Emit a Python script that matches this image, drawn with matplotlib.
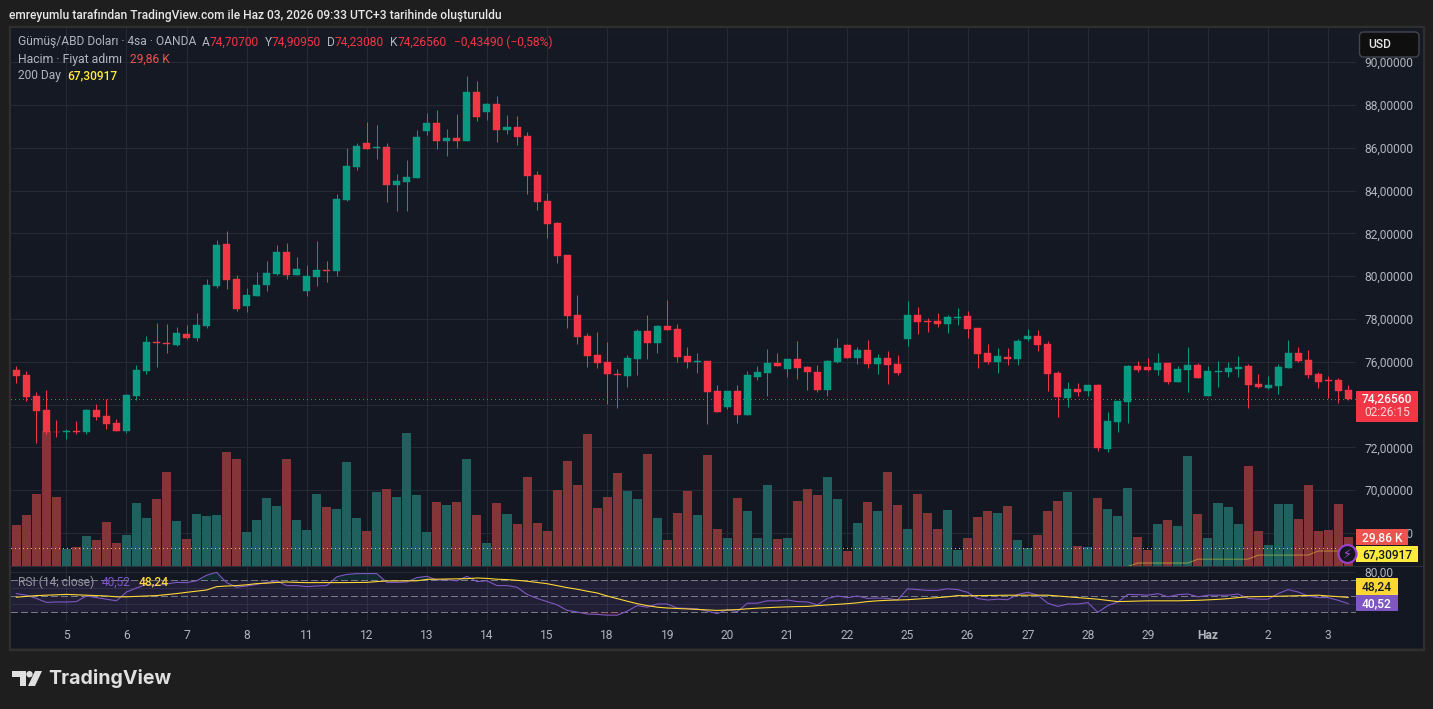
"""XAG/USD 4h candlestick chart with volume and RSI panes."""
import matplotlib

matplotlib.use("Agg")
import matplotlib.pyplot as plt
import numpy as np
from matplotlib.colors import LinearSegmentedColormap
from matplotlib.patches import Circle, FancyBboxPatch, Polygon, Rectangle

WIDTH, HEIGHT = 1433, 709

opens = [
    75.62, 75.38, 74.40, 73.75, 72.74, 72.72, 72.77, 72.72, 73.75, 73.47,
    73.14, 72.77, 74.40, 75.57, 76.93, 76.88, 76.79, 77.30, 77.11, 77.67,
    79.54, 81.51, 79.87, 78.61, 79.08, 79.59, 80.10, 81.13, 80.06, 79.31,
    79.96, 80.29, 80.24, 83.56, 85.10, 86.22, 85.99, 86.04, 84.26, 84.40,
    84.59, 86.79, 87.16, 86.32, 86.46, 86.32, 88.61, 87.67, 88.05, 86.83,
    86.97, 86.55, 84.73, 83.51, 82.49, 80.99, 78.19, 77.21, 76.32, 75.99,
    75.43, 75.34, 76.13, 77.44, 76.88, 77.67, 77.53, 76.27, 75.99, 76.04,
    74.64, 73.89, 74.64, 73.51, 75.29, 75.48, 75.94, 75.66, 76.13, 75.76,
    75.52, 74.68, 75.99, 76.79, 76.18, 76.55, 75.90, 76.18, 75.90, 77.07,
    78.19, 77.91, 77.91, 77.77, 78.05, 78.14, 77.58, 76.41, 75.99, 76.23,
    76.13, 77.07, 77.21, 76.83, 75.48, 74.31, 74.73, 74.64, 74.92, 71.93,
    73.19, 74.12, 75.80, 75.76, 75.62, 75.94, 75.06, 75.62, 75.85, 74.40,
    75.52, 75.52, 75.66, 75.80, 74.96, 74.78, 74.87, 75.71, 76.41, 76.08,
    75.43, 75.15, 75.15, 74.707,
]
highs = [
    75.80, 75.57, 74.59, 74.68, 73.28, 72.86, 73.23, 73.80, 74.03, 74.26,
    73.33, 74.50, 75.85, 77.21, 77.81, 77.77, 77.63, 77.72, 78.28, 79.87,
    81.69, 82.11, 80.06, 79.45, 80.20, 80.71, 81.46, 81.55, 80.90, 80.52,
    81.65, 80.71, 83.84, 85.99, 86.22, 87.21, 87.07, 86.22, 84.78, 85.43,
    86.83, 87.63, 87.77, 86.88, 87.58, 89.36, 89.12, 88.09, 88.42, 87.53,
    87.49, 86.74, 84.92, 83.89, 82.53, 80.99, 79.12, 77.35, 77.39, 76.93,
    75.66, 76.32, 77.53, 78.19, 77.72, 78.89, 77.77, 76.69, 76.41, 76.04,
    74.92, 74.64, 74.92, 75.57, 75.80, 76.60, 76.41, 76.13, 76.97, 75.80,
    75.85, 76.08, 77.11, 76.83, 76.69, 77.02, 76.37, 76.51, 76.32, 78.84,
    78.56, 78.05, 78.28, 78.19, 78.51, 78.37, 77.58, 76.83, 76.65, 76.65,
    77.07, 77.53, 77.49, 76.97, 75.57, 75.06, 75.01, 74.92, 74.96, 73.65,
    74.17, 75.85, 76.04, 76.18, 76.41, 75.94, 75.80, 76.69, 75.94, 75.80,
    76.04, 75.99, 76.27, 75.90, 75.43, 75.34, 75.90, 77.02, 76.69, 76.55,
    75.52, 75.34, 75.24, 74.9095,
]
lows = [
    75.01, 74.17, 72.21, 72.63, 72.49, 72.39, 72.63, 72.63, 73.28, 72.86,
    72.77, 72.67, 74.22, 75.43, 75.76, 76.41, 76.74, 77.07, 76.97, 77.58,
    79.45, 79.40, 78.37, 78.33, 79.08, 79.31, 80.06, 79.87, 80.06, 79.08,
    79.54, 79.73, 80.01, 83.51, 84.96, 85.94, 85.48, 83.47, 83.05, 83.05,
    84.59, 86.60, 85.94, 85.62, 85.99, 86.32, 87.25, 87.30, 86.27, 86.65,
    86.13, 83.84, 83.09, 81.79, 80.62, 77.58, 76.83, 75.76, 75.71, 74.03,
    73.84, 74.82, 75.38, 76.13, 76.41, 77.49, 75.99, 75.71, 75.48, 73.09,
    73.65, 73.80, 73.14, 73.51, 75.15, 74.40, 75.80, 75.29, 75.20, 74.68,
    74.59, 74.40, 75.94, 76.18, 75.90, 75.71, 75.43, 74.96, 75.38, 76.74,
    77.30, 77.39, 77.63, 77.35, 77.72, 77.11, 75.71, 75.90, 75.48, 75.85,
    75.85, 76.97, 76.51, 74.64, 73.42, 73.89, 74.40, 74.40, 71.83, 71.79,
    72.72, 73.14, 75.52, 75.57, 75.38, 74.96, 75.06, 74.59, 75.24, 74.40,
    74.82, 75.29, 75.29, 73.84, 74.78, 74.73, 74.50, 75.71, 75.99, 75.24,
    74.78, 74.31, 74.08, 74.2308,
]
closes = [
    75.34, 74.36, 73.70, 72.72, 72.70, 72.77, 72.70, 73.75, 73.42, 73.09,
    72.77, 74.45, 75.62, 76.93, 76.88, 76.83, 77.35, 77.11, 77.72, 79.59,
    81.46, 79.82, 78.47, 79.12, 79.59, 80.15, 81.13, 80.06, 80.34, 80.01,
    80.29, 80.24, 83.61, 85.15, 86.08, 85.94, 86.04, 84.26, 84.45, 84.64,
    86.51, 87.16, 86.32, 86.46, 86.32, 88.61, 87.44, 88.05, 86.83, 86.97,
    86.51, 84.68, 83.47, 82.44, 80.94, 78.14, 77.16, 76.27, 75.94, 75.43,
    75.38, 76.18, 77.44, 76.88, 77.67, 77.49, 76.23, 75.99, 76.04, 74.59,
    73.65, 74.64, 73.51, 75.38, 75.52, 75.94, 75.80, 76.13, 75.71, 75.52,
    74.68, 76.04, 76.65, 76.18, 76.55, 75.90, 76.18, 75.85, 75.48, 78.19,
    77.86, 77.86, 77.77, 78.10, 78.10, 77.53, 76.37, 75.99, 76.27, 76.13,
    76.97, 77.21, 76.79, 75.43, 74.36, 74.73, 74.59, 74.92, 71.97, 73.23,
    74.17, 75.80, 75.62, 75.62, 75.94, 75.06, 75.66, 75.85, 75.24, 75.57,
    75.57, 75.71, 75.76, 74.92, 74.82, 74.92, 75.76, 76.41, 76.04, 75.38,
    75.06, 75.10, 74.64, 74.2656,
]
volumes_k = [
    42.2, 52.5, 74.2, 139.0, 71.1, 17.5, 19.6, 30.9, 26.8, 45.3,
    23.7, 31.9, 64.9, 49.4, 69.0, 96.8, 46.4, 27.8, 53.6, 51.5,
    52.5, 117.4, 110.2, 35.0, 47.4, 70.0, 61.8, 110.2, 47.4, 37.1,
    74.2, 60.8, 58.7, 107.1, 49.4, 36.1, 76.2, 79.3, 71.1, 137.0,
    73.1, 35.0, 65.9, 62.8, 65.9, 110.2, 52.5, 23.7, 64.9, 53.6,
    43.3, 91.7, 44.3, 36.1, 78.3, 108.2, 83.4, 136.0, 59.7, 71.1,
    95.8, 77.3, 69.0, 115.4, 49.4, 26.8, 54.6, 77.3, 52.5, 114.3,
    38.1, 28.8, 70.0, 56.7, 28.8, 83.4, 27.8, 28.8, 67.0, 79.3,
    73.1, 91.7, 69.0, 15.5, 44.3, 65.9, 56.7, 96.8, 62.8, 38.1,
    74.2, 54.6, 38.1, 57.7, 16.5, 28.8, 50.5, 56.7, 54.6, 61.8,
    26.8, 18.5, 31.9, 56.7, 67.0, 76.2, 20.6, 19.6, 70.0, 58.7,
    51.5, 80.3, 29.9, 16.5, 43.3, 47.4, 41.2, 113.3, 53.6, 28.8,
    64.9, 60.8, 43.3, 103.0, 36.1, 21.6, 63.9, 63.9, 48.4, 83.4,
    36.1, 37.1, 63.9, 29.86,
]
rsi = [
    53, 51, 47, 42, 42.5, 42.5, 43, 50, 48, 46,
    44, 55, 60, 64.5, 63, 65, 67, 66.7, 69, 76,
    79.6, 66.7, 61, 62.5, 64.5, 67, 69, 63, 63, 61.7,
    62.5, 63, 74, 77, 78, 78, 78, 67, 67, 67.5,
    73, 74.6, 70, 70.4, 69, 74.6, 68, 69, 63, 63,
    61, 52, 47, 43, 39, 32, 30, 27.5, 27, 26,
    26, 31, 38, 36, 40, 40, 35, 34.6, 34, 31,
    28, 33, 30.4, 41, 41, 44, 44, 45, 43, 42.5,
    39, 47, 50, 48, 50, 47, 47.5, 47, 45, 59,
    58, 57, 57, 59, 58, 54.6, 46.7, 45, 46, 45.4,
    52, 54.6, 51, 41, 37, 40, 40, 41.7, 29.6, 38,
    42.5, 52, 51.7, 51, 53, 49, 51.7, 52.5, 49, 51,
    51, 51, 52.5, 47, 46, 46, 53, 58, 55, 50,
    48, 48, 44.6, 40.52,
]
rsi_ma = [
    48.5, 49.5, 50.5, 51, 51.5, 52, 51.5, 51, 50.5, 50,
    49, 49, 49.5, 50, 50.5, 51.7, 53, 54.6, 56, 57.5,
    61.7, 62.5, 63, 64, 65.5, 66, 67, 67.5, 67, 66.7,
    66.7, 66.7, 66.7, 66.8, 66.9, 67, 68, 68.8, 68.9, 69,
    69, 70.8, 71, 71.2, 71.5, 71.7, 72.5, 72, 71, 70.5,
    69.6, 68.5, 67, 65.4, 63, 60.5, 58.5, 56, 53.8, 50,
    46.7, 43.5, 40.4, 38, 36, 35, 34.4, 33.8, 33.3, 32.7,
    32, 32.5, 33, 34, 34.8, 35.4, 36, 36.4, 36.8, 37,
    38, 38.8, 39.6, 40.4, 41.5, 43, 44, 44.6, 45, 45.4,
    46.2, 47, 48, 49, 50.5, 50.3, 50.5, 50.7, 50.8, 51,
    51, 51, 51, 51, 50, 49, 48, 47, 46, 44.5,
    43, 43.3, 43.7, 44, 44, 44, 44, 44.3, 44.6, 45.2,
    45.8, 46.7, 48, 49, 49.2, 49.5, 49.7, 50, 50.4, 50.7,
    51, 50, 49.2, 48.24,
]
# 200-day average only enters the visible range near the end of the window.
ma200_index = [111, 112, 117, 118, 123, 124, 129, 130, 133]
ma200_values = [66.44, 66.60, 66.60, 66.78, 66.78, 66.97, 66.97, 67.16, 67.16]

price_ticks = [68, 70, 72, 74, 76, 78, 80, 82, 84, 86, 88, 90]
day_index = [5, 11, 17, 23, 29, 35, 41, 47, 53, 59, 65, 71, 77, 83, 89, 95, 101, 107, 113, 119, 125, 131]
day_labels = ["5", "6", "7", "8", "11", "12", "13", "14", "15", "18", "19", "20", "21", "22", "25",
              "26", "27", "28", "29", "Haz", "2", "3"]
last_price = 74.2656
ma200_last = 67.30917

OUTER = "#1e1e1e"
BORDER = "#2f2f2f"
GRID = "#262a35"
TEXT = "#b2b5be"
UP = "#089981"
DOWN = "#f23645"
VOL_UP = "#20605e"
VOL_DOWN = "#843538"
YELLOW = "#ffeb3b"
RSI_YELLOW = "#fdd835"
PURPLE = "#7e57c2"

FONT = "Roboto"
PX = 0.72  # one pixel in points at dpi=100

plt.rcParams["font.family"] = [FONT, "DejaVu Sans"]


def frac(x, y):
    return x / WIDTH, 1 - y / HEIGHT


def add_axes_px(fig, left, top, right, bottom, **kw):
    return fig.add_axes([left / WIDTH, 1 - bottom / HEIGHT, (right - left) / WIDTH, (bottom - top) / HEIGHT], **kw)


def put(fig, x, y, s, size=12, color=TEXT, weight="normal", ha="left", zorder=12):
    fx, fy = frac(x, y)
    fig.text(fx, fy, s, fontsize=size * PX, color=color, fontweight=weight, ha=ha, va="center", zorder=zorder)


def rect(fig, left, top, right, bottom, color, zorder=8, edge="none"):
    fx, fy = frac(left, bottom)
    fig.add_artist(Rectangle((fx, fy), (right - left) / WIDTH, (bottom - top) / HEIGHT, facecolor=color,
                             edgecolor=edge, linewidth=1, transform=fig.transFigure, zorder=zorder))


def tag(fig, left, top, right, bottom, color, text, text_color):
    rect(fig, left, top, right, bottom, color)
    put(fig, (left + right) / 2, (top + bottom) / 2 + 0.5, text, color=text_color, weight="medium", ha="center")


def draw_candles(ax, x):
    o, h, l, c = map(np.array, (opens, highs, lows, closes))
    colors = np.where(c >= o, UP, DOWN)
    ax.vlines(x, l, h, colors=colors, linewidth=1 * PX, zorder=3)
    ax.bar(x, np.abs(c - o), bottom=np.minimum(o, c), width=0.7, color=colors, edgecolor=colors,
           linewidth=0.3, zorder=4)


def main():
    fig = plt.figure(figsize=(WIDTH / 100, HEIGHT / 100), dpi=100, facecolor=OUTER)
    x = np.arange(len(closes))
    x_range = (-0.53, 133.78)

    # Frame and background gradient behind every pane.
    rect(fig, 10, 27, 1423, 649, "none", zorder=-2, edge=BORDER)
    rect(fig, 9, 26, 1424, 650, "none", zorder=-2, edge=BORDER)
    bg = add_axes_px(fig, 11, 28, 1423, 648, zorder=-1)
    cmap = LinearSegmentedColormap.from_list("pane", ["#161a25", "#131722"])
    bg.imshow(np.linspace(0, 1, 64).reshape(-1, 1), aspect="auto", cmap=cmap)
    bg.axis("off")

    # Volume sits under the candles and shares the pane with them.
    vol = add_axes_px(fig, 11, 28, 1356, 566, zorder=1)
    vol.patch.set_visible(False)
    vol.set_xlim(*x_range)
    vol.set_ylim(0, 538 * 1.03)
    for v in day_index:
        vol.axvline(v, color=GRID, linewidth=1 * PX, zorder=0)
    vol_colors = [VOL_UP if c >= o else VOL_DOWN for o, c in zip(opens, closes)]
    vol.bar(x, volumes_k, width=0.9, color=vol_colors, linewidth=0, zorder=2)
    vol.axis("off")

    ax = add_axes_px(fig, 11, 28, 1356, 566, zorder=2)
    ax.patch.set_visible(False)
    ax.set_xlim(*x_range)
    ax.set_ylim(66.46, 91.60)
    for p in price_ticks:
        vol.plot(x_range, [(p - 66.46) * 21.4 * 1.03] * 2, color=GRID, linewidth=1 * PX, zorder=1)
    draw_candles(ax, x)
    ax.plot(ma200_index, ma200_values, color=YELLOW, alpha=0.45, linewidth=1 * PX, zorder=3)
    ax.axhline(last_price, color=DOWN, linewidth=1 * PX, dashes=(1, 3), antialiased=False, zorder=5)
    ax.axhline(ma200_last, color="#e0c53a", linewidth=1 * PX, dashes=(1, 3), antialiased=False, zorder=5)
    ax.yaxis.tick_right()
    ax.set_yticks(price_ticks)
    # The 74 label would sit under the last-price tag, so it stays blank.
    labels = ["" if p == 74 else f"{p:.5f}".replace(".", ",") for p in price_ticks]
    ax.set_yticklabels(labels, fontsize=12 * PX, color=TEXT)
    ax.tick_params(axis="y", length=0, pad=6)
    ax.set_xticks([])
    for side in ax.spines.values():
        side.set_visible(False)

    # RSI pane.
    osc = add_axes_px(fig, 11, 566, 1356, 621, zorder=1)
    osc.patch.set_visible(False)
    osc.set_xlim(*x_range)
    osc.set_ylim(18.75, 87.5)
    osc.axhspan(30, 70, color=PURPLE, alpha=0.13, linewidth=0, zorder=1)
    for level in (80, 60, 40):
        osc.axhline(level, color=GRID, linewidth=1 * PX, zorder=0)
    for v in day_index:
        osc.axvline(v, color=GRID, linewidth=1 * PX, zorder=0)
    for level in (70, 50, 30):
        osc.axhline(level, color="#787b86", linewidth=1 * PX, dashes=(6, 4), antialiased=False, zorder=2)
    rsi_arr = np.array(rsi, dtype=float)
    osc.fill_between(x, 70, rsi_arr, where=rsi_arr >= 70, interpolate=True, color=UP, alpha=0.15, linewidth=0, zorder=2)
    osc.fill_between(x, 30, rsi_arr, where=rsi_arr <= 30, interpolate=True, color=DOWN, alpha=0.15, linewidth=0, zorder=2)
    osc.plot(x, rsi, color=PURPLE, linewidth=1.1 * PX, zorder=3)
    osc.plot(x, rsi_ma, color=RSI_YELLOW, linewidth=1.1 * PX, zorder=4)
    osc.yaxis.tick_right()
    osc.set_yticks([80])
    osc.set_yticklabels(["80,00"], fontsize=12 * PX, color=TEXT)
    osc.tick_params(axis="y", length=0, pad=6)
    osc.set_xticks(day_index)
    osc.set_xticklabels(day_labels, fontsize=12 * PX, color=TEXT)
    osc.get_xticklabels()[day_labels.index("Haz")].set_fontweight("bold")
    osc.tick_params(axis="x", length=0, pad=6)
    for side in osc.spines.values():
        side.set_visible(False)

    # Separator between the price and RSI panes, running through the scale.
    rect(fig, 11, 566, 1423, 567, "#2c303a", zorder=3)

    # Header and legends.
    put(fig, 9, 15, "emreyumlu tarafından TradingView.com ile Haz 03, 2026 09:33 UTC+3 tarihinde oluşturuldu",
        size=12, color="#e8e8e8", weight="medium")
    put(fig, 18, 42, "Gümüş/ABD Doları · 4sa · OANDA")
    for xpos, s, col in [(202, "A", TEXT), (210, "74,70700", DOWN), (265, "Y", TEXT), (272, "74,90950", DOWN),
                         (327, "D", TEXT), (335, "74,23080", DOWN), (390, "K", TEXT), (398, "74,26560", DOWN),
                         (453.5, "−0,43490 (−0,58%)", DOWN)]:
        put(fig, xpos, 42, s, color=col)
    put(fig, 18, 59, "Hacim · Fiyat adımı", size=12.3)
    put(fig, 130.5, 59, "29,86 K", color="#ef5350")
    put(fig, 18, 76, "200 Day")
    put(fig, 67, 76, "67,30917", color=YELLOW, weight="medium")
    put(fig, 18, 582, "RSI (14; close)", color="#9598a1")
    put(fig, 102, 582, "40,52", color=PURPLE)
    put(fig, 139, 582, "48,24", color=RSI_YELLOW, weight="medium")

    # Currency button and value tags on the scale.
    button = FancyBboxPatch(frac(1359.5, 57), 59.5 / WIDTH, 25 / HEIGHT, boxstyle="round,pad=0,rounding_size=0.003",
                            facecolor="#0f0f0f", edgecolor="#434651", linewidth=1, transform=fig.transFigure,
                            zorder=8, mutation_aspect=2)
    fig.add_artist(button)
    put(fig, 1368, 44.5, "USD", color="#e8e8e8", weight="medium")

    rect(fig, 1356, 391, 1418, 422, DOWN)
    put(fig, 1387, 398.5, "74,26560", color="white", weight="medium", ha="center")
    put(fig, 1387, 412.5, "02:26:15", color="#fbd5d8", ha="center")
    tag(fig, 1356, 529, 1408, 545, "#ef5350", "29,86 K", "white")
    tag(fig, 1356, 546, 1418, 562, YELLOW, "67,30917", "#131722")
    tag(fig, 1356, 578, 1398, 595, RSI_YELLOW, "48,24", "#131722")
    tag(fig, 1356, 595, 1398, 611, PURPLE, "40,52", "white")

    # Alert badge next to the tags.
    cx, cy = 1347.5, 554
    fig.add_artist(Circle((cx, HEIGHT - cy), 9, facecolor="#131722", edgecolor="#9c3fc4", linewidth=1.6,
                          transform=None, zorder=9))
    fig.text(cx / WIDTH, 1 - (cy + 0.5) / HEIGHT, "⚡", fontsize=9, color="#b04fd8", ha="center", va="center",
             family="DejaVu Sans", zorder=10)

    # Footer wordmark.
    logo = "#e0e0e0"
    rect(fig, 12, 671, 26, 677, logo, zorder=5)
    rect(fig, 20, 671, 26, 686, logo, zorder=5)
    fig.add_artist(Circle((29.5, HEIGHT - 674.2), 3.2, facecolor=logo, edgecolor="none", transform=None, zorder=5))
    fig.add_artist(Polygon([frac(35, 671), frac(42, 671), frac(35, 686), frac(28, 686)], closed=True, facecolor=logo,
                           edgecolor="none", transform=fig.transFigure, zorder=5))
    fx, fy = frac(48.5, 679)
    fig.text(fx, fy, "TradingView", fontsize=19.6 * PX, color=logo, fontweight="bold", family="Inter", va="center",
             ha="left", zorder=5)

    fig.savefig("out.png", dpi=100, facecolor=OUTER)
    plt.close(fig)


if __name__ == "__main__":
    main()
